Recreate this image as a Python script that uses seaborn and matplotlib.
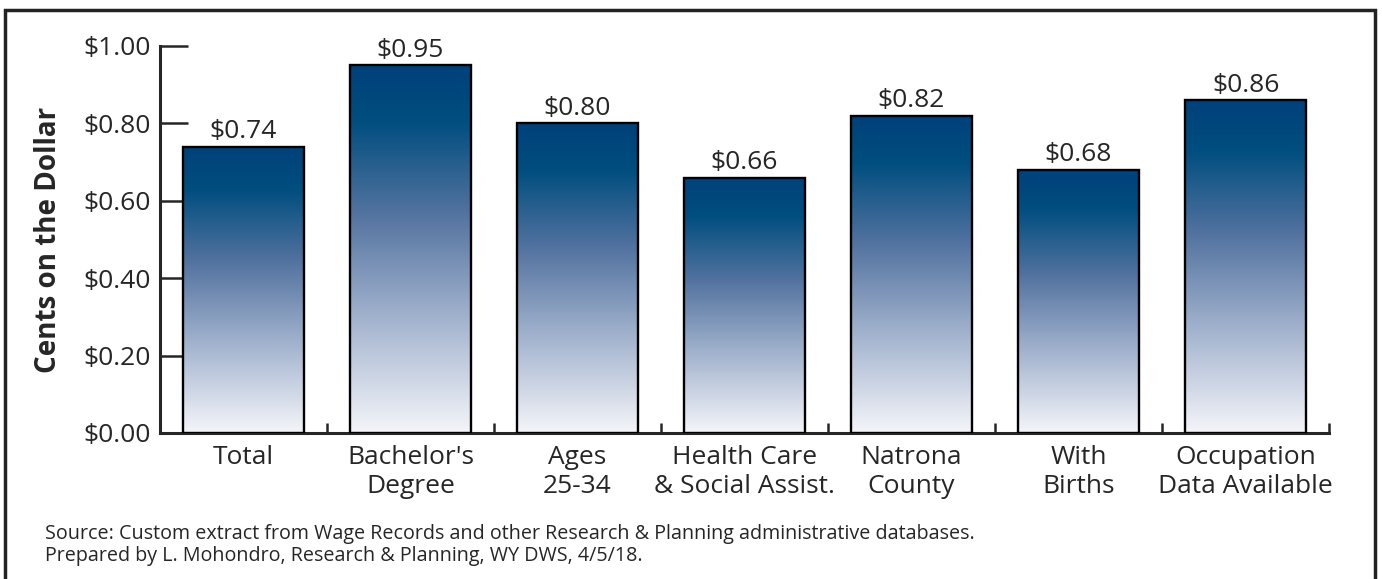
import numpy as np
import pandas as pd
import matplotlib
matplotlib.use("Agg")
import matplotlib.pyplot as plt
from matplotlib.colors import LinearSegmentedColormap
from matplotlib.patches import Rectangle
from matplotlib.ticker import FixedLocator
import seaborn as sns

# данные
categories = ["Total", "Bachelor's\nDegree", "Ages\n25-34", "Health Care\n& Social Assist.",
              "Natrona\nCounty", "With\nBirths", "Occupation\nData Available"]
values = [0.74, 0.95, 0.80, 0.66, 0.82, 0.68, 0.86]
y_ticks = [0.0, 0.2, 0.4, 0.6, 0.8, 1.0]

df = pd.DataFrame({"cat": categories, "val": values})

sns.set_style("white")
plt.rcParams["font.family"] = ["Open Sans", "DejaVu Sans"]

fig = plt.figure(figsize=(13.82, 5.79), dpi=100)
ax = fig.add_axes([0.1158, 0.2522, 0.8459, 0.6684])

sns.barplot(data=df, x="cat", y="val", color="#1f4e79", width=0.72, ax=ax)

# градиент сверху вниз: тёмно-синий -> почти белый
grad_cmap = LinearSegmentedColormap.from_list(
    "bluegrad", [(0.0, "#f4f5f9"), (0.3, "#a5b5cf"), (0.6, "#52729f"),
                 (0.85, "#004e7f"), (1.0, "#00417a")])
grad = np.linspace(0, 1, 256).reshape(-1, 1)
for p in ax.patches:
    x0, y0 = p.get_x(), p.get_y()
    w, h = p.get_width(), p.get_height()
    im = ax.imshow(grad, cmap=grad_cmap, origin="lower", aspect="auto",
                   extent=[x0, x0 + w, y0, y0 + h], zorder=2)
    im.set_clip_path(p)
    p.set_facecolor("none")
    p.set_edgecolor("black")
    p.set_linewidth(1.7)
    p.set_zorder(3)
    ax.text(x0 + w / 2, h + 0.006, f"${h:.2f}", ha="center", va="bottom", fontsize=19)

ax.set_xlim(-0.5, 6.5)
ax.set_ylim(0, 1.0)
ax.set_yticks(y_ticks)
ax.set_yticklabels([f"${t:.2f}" for t in y_ticks], fontsize=19)
ax.tick_params(axis="y", direction="in", length=20, width=1.8, pad=7, left=True)
ax.tick_params(axis="x", which="major", length=0, pad=9, labelsize=19)
ax.xaxis.set_minor_locator(FixedLocator(np.arange(0.5, 6.6, 1.0)))
ax.tick_params(axis="x", which="minor", direction="in", length=7, width=1.8, bottom=True)
for lab in ax.get_xticklabels():
    lab.set_linespacing(1.2)

sns.despine(ax=ax, top=True, right=True)
ax.spines["left"].set_linewidth(2.2)
ax.spines["bottom"].set_linewidth(2.2)
ax.set_xlabel("")
ax.set_ylabel("Cents on the Dollar", fontsize=20, fontweight="bold")
ax.yaxis.set_label_coords(-0.083, 0.5)

fig.text(0.0326, 0.095, "Source: Custom extract from Wage Records and other Research & Planning administrative databases.\n"
         "Prepared by L. Mohondro, Research & Planning, WY DWS, 4/5/18.",
         fontsize=14.2, va="top", ha="left", linespacing=1.15)

# рамка вокруг всего рисунка
fig.patches.append(Rectangle((0.0036, -0.05), 0.9915, 1.033, transform=fig.transFigure,
                             fill=False, edgecolor="#222222", linewidth=2.5))

fig.savefig("out.png", dpi=100)
